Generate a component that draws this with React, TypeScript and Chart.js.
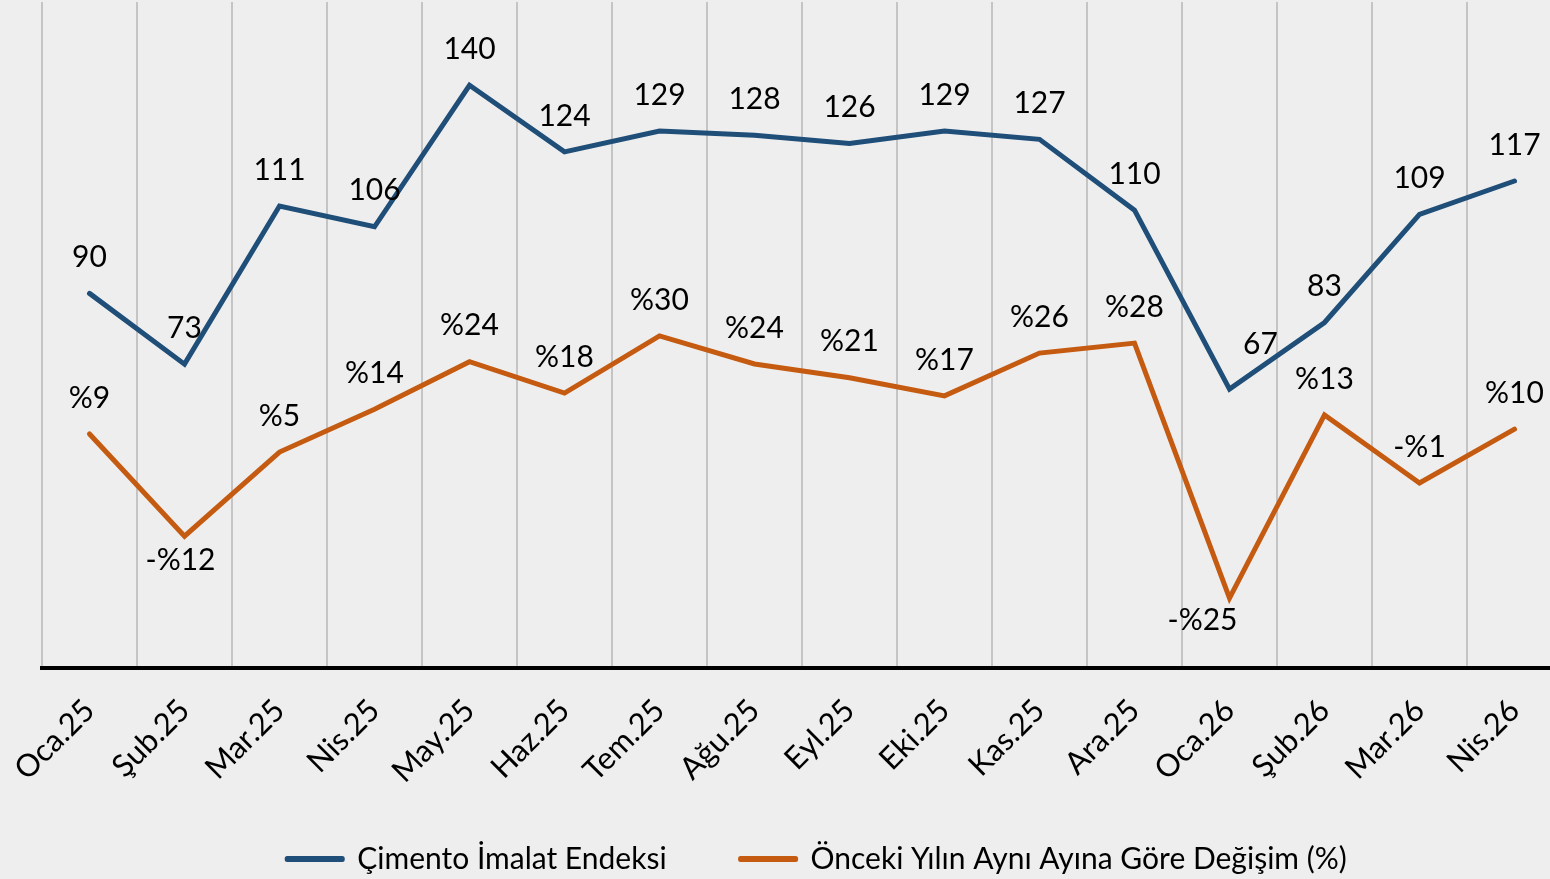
import React, { useEffect, useRef } from "react";
import { Chart, registerables } from "chart.js";

Chart.register(...registerables);

const categories = [
  "Oca.25", "Şub.25", "Mar.25", "Nis.25", "May.25", "Haz.25", "Tem.25", "Ağu.25",
  "Eyl.25", "Eki.25", "Kas.25", "Ara.25", "Oca.26", "Şub.26", "Mar.26", "Nis.26",
];

const indexValues = [90, 73, 111, 106, 140, 124, 129, 128, 126, 129, 127, 110, 67, 83, 109, 117];

const changeValues = [9.2, -12.3, 5.4, 14.4, 24.4, 17.8, 29.8, 23.9, 21.0, 17.2, 26.2, 28.3, -25.3, 13.2, -1.1, 10.2];

const indexLabelPlacement = [
  "top", "top", "top", "top", "top", "top", "top", "top",
  "top", "top", "top", "top", "topRight", "top", "top", "top",
];
const changeLabelPlacement = [
  "top", "bottom", "top", "top", "top", "top", "top", "top",
  "top", "top", "top", "top", "bottomLeft", "top", "top", "top",
];

const seriesNames = ["Çimento İmalat Endeksi", "Önceki Yılın Aynı Ayına Göre Değişim (%)"];

const BLUE = "#1f4e79";
const ORANGE = "#c55a11";
const FONT = "Lato, 'Noto Sans', sans-serif";

const OFFSETS: Record<string, [number, number]> = {
  top: [0, -36],
  bottom: [-4, 24],
  bottomLeft: [-27, 22],
  topRight: [31, -45],
};

const formatIndex = (v: number) => String(Math.round(v));
const formatChange = (v: number) => {
  const r = Math.round(v);
  return r < 0 ? "-%" + Math.abs(r) : "%" + r;
};

const valueLabels = {
  id: "valueLabels",
  afterDatasetsDraw(chart: any) {
    const ctx = chart.ctx;
    ctx.save();
    ctx.font = `30px ${FONT}`;
    ctx.fillStyle = "#000";
    ctx.textAlign = "center";
    ctx.textBaseline = "middle";
    chart.data.datasets.forEach((ds: any, di: number) => {
      const meta = chart.getDatasetMeta(di);
      const placement = di === 0 ? indexLabelPlacement : changeLabelPlacement;
      const fmt = di === 0 ? formatIndex : formatChange;
      meta.data.forEach((pt: any, i: number) => {
        const off = OFFSETS[placement[i]] || OFFSETS.top;
        ctx.fillText(fmt(ds.data[i]), pt.x + off[0], pt.y + off[1]);
      });
    });
    ctx.restore();
  },
};

// let the rotated tick labels extend into the free space above the legend
const unclipTicks = {
  id: "unclipTicks",
  afterLayout(chart: any) {
    const x = chart.scales.x;
    if (x) x.bottom = chart.height;
  },
};

export default function App() {
  const ref = useRef<HTMLCanvasElement | null>(null);

  useEffect(() => {
    if (!ref.current) return;
    const chart = new Chart(ref.current, {
      type: "line",
      data: {
        labels: categories,
        datasets: [
          {
            label: seriesNames[0],
            data: indexValues,
            borderColor: BLUE,
            backgroundColor: BLUE,
            borderWidth: 5,
            pointRadius: 0,
            tension: 0,
            borderCapStyle: "round",
            borderJoinStyle: "miter",
            yAxisID: "y",
          },
          {
            label: seriesNames[1],
            data: changeValues,
            borderColor: ORANGE,
            backgroundColor: ORANGE,
            borderWidth: 5,
            pointRadius: 0,
            tension: 0,
            borderCapStyle: "round",
            borderJoinStyle: "miter",
            yAxisID: "y1",
          },
        ],
      },
      options: {
        responsive: true,
        maintainAspectRatio: false,
        animation: false,
        layout: { padding: { left: 42, right: 8, top: 2, bottom: -5 } },
        plugins: {
          tooltip: { enabled: false },
          legend: {
            position: "bottom",
            labels: {
              font: { family: FONT, size: 30 },
              color: "#000",
              boxWidth: 55,
              boxHeight: 1,
              padding: 74,
              generateLabels: (c: any) =>
                c.data.datasets.map((ds: any, i: number) => ({
                  text: ds.label,
                  fillStyle: ds.borderColor,
                  strokeStyle: ds.borderColor,
                  lineWidth: 5,
                  lineCap: "round",
                  lineJoin: "round",
                  hidden: false,
                  datasetIndex: i,
                  fontColor: "#000",
                })),
            },
          },
        },
        scales: {
          x: {
            type: "category",
            offset: true,
            grid: { offset: true, color: "#c4c4c4", lineWidth: 2, drawTicks: false },
            border: { color: "#000", width: 4 },
            ticks: {
              minRotation: 45,
              maxRotation: 45,
              autoSkip: false,
              color: "#000",
              font: { family: FONT, size: 31 },
              padding: 24,
            },
            afterFit: (s: any) => {
              s.height = 102;
              s.paddingLeft = 0;
              s.paddingRight = 0;
            },
          },
          y: {
            display: false,
            min: 0,
            max: 160,
          },
          y1: {
            position: "right",
            display: true,
            min: -40,
            max: 100,
            grid: { display: false },
            border: { display: false },
            ticks: { display: false },
            afterFit: (s: any) => {
              s.width = 30;
            },
          },
        },
      },
      plugins: [valueLabels, unclipTicks],
    });
    return () => chart.destroy();
  }, []);

  return (
    <div
      style={{
        position: "fixed",
        left: 0,
        top: 0,
        width: 1550,
        height: 879,
        overflow: "hidden",
        background: "#eeeeee",
      }}
    >
      <div style={{ position: "relative", width: 1600, height: 879 }}>
        <canvas ref={ref} />
      </div>
    </div>
  );
}
